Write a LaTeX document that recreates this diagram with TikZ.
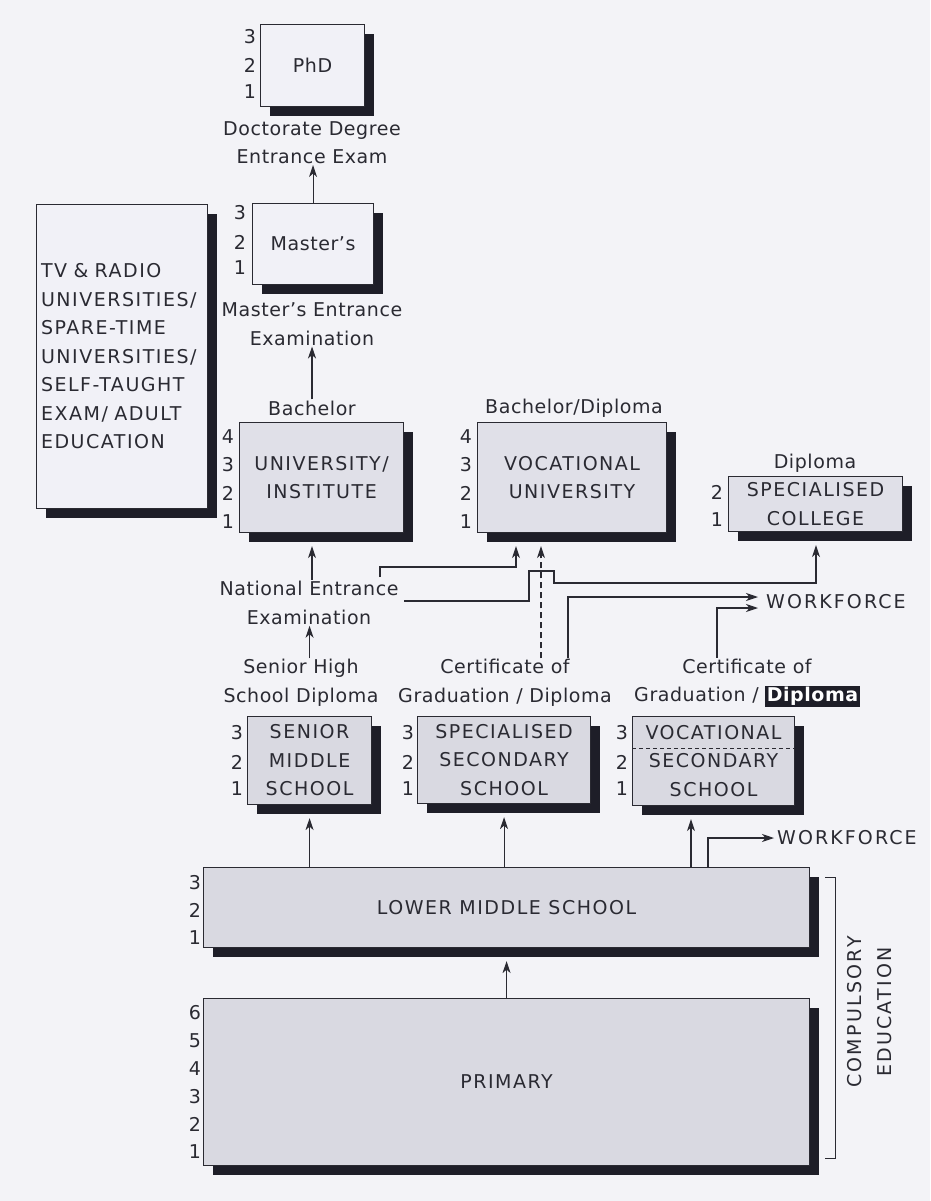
\documentclass[tikz,border=0pt]{standalone}
\usepackage{fontspec}
\setmainfont{DejaVu Sans}[LetterSpace=3]
\usetikzlibrary{arrows.meta,calc,shadows}
\definecolor{bg}{HTML}{F3F3F7}
\definecolor{light}{HTML}{F1F1F7}
\definecolor{midA}{HTML}{E0E0E8}
\definecolor{midB}{HTML}{D9D9E1}
\definecolor{ink}{HTML}{2A2A32}
\definecolor{shade}{HTML}{1E1E28}
\newcommand{\hlbox}[1]{{\setlength{\fboxsep}{1.5pt}\colorbox{shade}{\textcolor{white}{\bfseries #1}}}}
\newcommand{\capsfont}{\fontsize{19}{28.5}\selectfont\addfontfeature{LetterSpace=8}}
\begin{document}
\begin{tikzpicture}[x=1pt,y=-1pt,
  every node/.style={text=ink, font=\fontsize{19}{28.5}\selectfont},
  box/.style={draw=ink, line width=1.1pt, fill=midB, anchor=north west, align=center, inner sep=0pt,
     font=\capsfont,
     drop shadow={shadow xshift=9pt, shadow yshift=-9pt, opacity=1, fill=shade}},
  boxA/.style={box, fill=midA},
  lightbox/.style={box, fill=light},
  num/.style={inner sep=0pt},
  lbl/.style={align=center, inner sep=1pt},
  arr/.style={draw=ink, line width=1.1pt, -{Stealth[length=12pt,width=8pt,inset=3.5pt]}},
  line/.style={draw=ink, line width=0.9pt}]
\fill[bg] (0,0) rectangle (930,1201);
\useasboundingbox (0,0) rectangle (930,1201);

% boxes
\node[lightbox, minimum width=104pt, minimum height=82pt, font=\fontsize{19}{28.5}\selectfont] (phd) at (260,24) {PhD};
\node[lightbox, minimum width=121pt, minimum height=81pt, font=\fontsize{19}{28.5}\selectfont] (masters) at (252,203) {Master's};
\node[lightbox, minimum width=171pt, minimum height=304pt, text width=162pt, align=left] (tvr) at (36,204)
  {TV \& RADIO\\UNIVERSITIES/\\SPARE-TIME\\UNIVERSITIES/\\SELF-TAUGHT\\EXAM/ ADULT\\EDUCATION};
\node[boxA, minimum width=164pt, minimum height=110pt] (univ) at (239,422) {UNIVERSITY/\\INSTITUTE};
\node[boxA, minimum width=189pt, minimum height=110pt] (voc) at (477,422) {VOCATIONAL\\UNIVERSITY};
\node[boxA, minimum width=174pt, minimum height=55pt] (spec) at (728,476) {SPECIALISED\\COLLEGE};
\node[box, minimum width=124pt, minimum height=88pt] (smid) at (247,716) {SENIOR\\MIDDLE\\SCHOOL};
\node[box, minimum width=173pt, minimum height=87pt] (ssec) at (417,716) {SPECIALISED\\SECONDARY\\SCHOOL};
\node[box, minimum width=162pt, minimum height=89pt] (vsec) at (632,716) {VOCATIONAL\\SECONDARY\\SCHOOL};
\draw[ink, line width=1pt, dash pattern=on 4pt off 3pt] ($(vsec.north west)+(0,32)$) -- ($(vsec.north east)+(0,32)$);
\node[box, minimum width=606pt, minimum height=80pt] (lower) at (203,867) {LOWER MIDDLE SCHOOL};
\node[box, minimum width=606pt, minimum height=167pt] (primary) at (203,998) {PRIMARY};

% year numbers
\foreach \n/\yy in {3/37,2/65,1/92} \node[num] (phdn\n) at (250,\yy) {\n};
\foreach \n/\yy in {3/213,2/242,1/268} \node[num] (masn\n) at (240,\yy) {\n};
\foreach \n/\yy in {4/437,3/465,2/493,1/522} {
  \node[num] (univn\n) at (228,\yy) {\n};
  \node[num] (vocn\n) at (466,\yy) {\n};
}
\foreach \n/\yy in {2/492,1/520} \node[num] (specn\n) at (717,\yy) {\n};
\foreach \n/\yy in {3/733,2/762,1/789} {
  \node[num] (smidn\n) at (237,\yy) {\n};
  \node[num] (ssecn\n) at (408,\yy) {\n};
  \node[num] (vsecn\n) at (622,\yy) {\n};
}
\foreach \n/\yy in {3/883,2/910,1/938} \node[num] (lowern\n) at (195,\yy) {\n};
\foreach \n/\yy in {6/1013,5/1041,4/1069,3/1097,2/1124,1/1152} \node[num] (primn\n) at (195,\yy) {\n};

% labels
\node[lbl] (ddlabel) at (312,142.5) {Doctorate Degree\\Entrance Exam};
\node[lbl] (melabel) at (312,324) {Master's Entrance\\Examination};
\node[lbl] (bachlabel) at (312,408) {Bachelor};
\node[lbl] (bdlabel) at (574,408) {Bachelor/Diploma};
\node[lbl] (diplabel) at (815,463) {Diploma};
\node[lbl] (nelabel) at (309,603) {National Entrance\\Examination};
\node[lbl] (shlabel) at (301,683) {Senior High\\School Diploma};
\node[lbl] (cg1label) at (505,683) {Certificate of\\Graduation / Diploma};
\node[lbl] (cg2label) at (747,683) {Certificate of\\Graduation / \hlbox{Diploma}};
\node[lbl, anchor=west, inner sep=0pt, font=\fontsize{19}{28.5}\selectfont\addfontfeature{LetterSpace=11}] (wf1) at (766,602) {WORKFORCE};
\node[lbl, anchor=west, inner sep=0pt, font=\fontsize{19}{28.5}\selectfont\addfontfeature{LetterSpace=11}] (wf2) at (777,838) {WORKFORCE};
\node[lbl, rotate=90, inner sep=0pt, font=\fontsize{19}{30}\selectfont\addfontfeature{LetterSpace=12}] (comp) at (870,1012) {COMPULSORY\\EDUCATION};

% vertical progression arrows
\draw[arr] (masters.north) -- (masters.north |- ddlabel.south);
\draw[arr] (bachlabel.north) -- (bachlabel.north |- melabel.south);
\draw[arr] (nelabel.north -| bachlabel.north) -- ($(univ.south -| bachlabel.north)+(0,13)$);
\draw[arr] (shlabel.north -| smid.north) -- (nelabel.south -| smid.north);
\draw[arr] (lower.north -| smid.south) -- ($(smid.south)+(0,13)$);
\draw[arr] (lower.north -| ssec.south) -- ($(ssec.south)+(0,13)$);
\coordinate (vx) at (691,0);
\draw[arr] (lower.north -| vx) -- ($(vsec.south -| vx)+(0,13)$);
\coordinate (wx) at (708,0);
\draw[arr, shorten >=3pt] (lower.north -| wx) |- (wf2.west);
\draw[arr] (primary.north) -- ($(lower.south)+(0,13)$);

% connectors from National Entrance Examination
\coordinate (ne1) at (380,577);
\draw[arr] (ne1) -- ++(0,-10) -| ($(voc.south west)+(39,13)$);
\coordinate (ne2) at (404,601);
\draw[arr] (ne2) -- ++(125,0) -- ++(0,-30) -- ++(25,0) -- ++(0,12) -| ($(spec.south west)+(88,13)$);

% connectors from certificates
\draw[arr, dash pattern=on 6pt off 4pt] ($(cg1label.north)+(36,0)$) -- ($(voc.south west)+(64,13)$);
\draw[arr] ($(cg1label.north)+(63,0)$) |- ($(wf1.west)+(-8,-5)$);
\draw[arr] ($(cg2label.north)+(-30,0)$) |- ($(wf1.west)+(-8,6)$);

% compulsory bracket
\coordinate (bt) at (825,877);
\coordinate (bb) at (825,1158);
\draw[line] (bt) -- ++(10,0) |- (bb);
\end{tikzpicture}
\end{document}
